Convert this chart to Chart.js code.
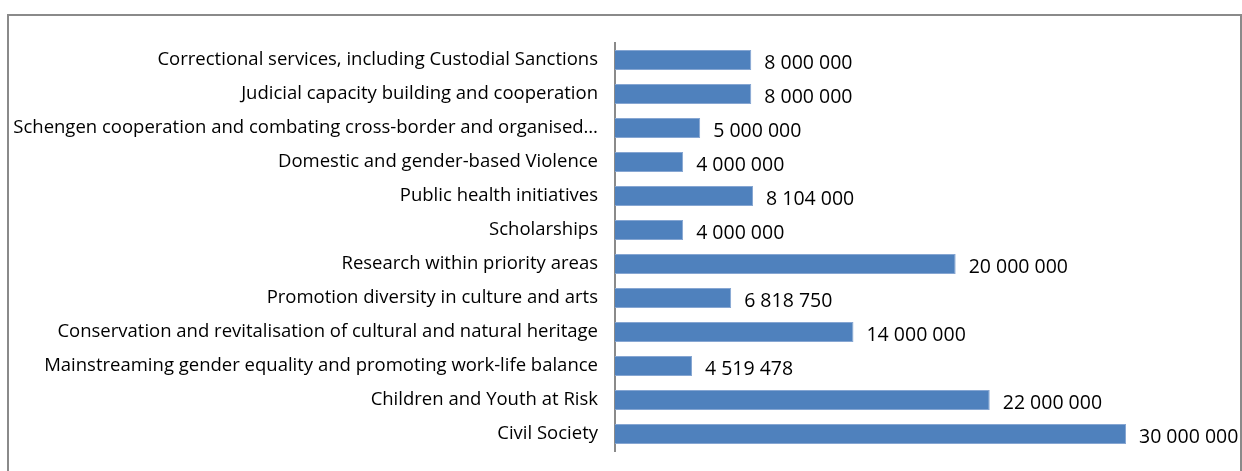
<!DOCTYPE html>
<html>
<head>
<meta charset="utf-8">
<script src="https://cdn.jsdelivr.net/npm/chart.js@4.4.0/dist/chart.umd.min.js"></script>
<style>
    body { margin: 0; background: #fff; }
    #wrap { position: relative; width: 1242px; height: 471px; overflow: hidden; }
    #frame {
        position: absolute; left: 7px; top: 14px; width: 1231px; height: 470px;
        border: 2px solid #8a8a8a; border-bottom: none; pointer-events: none;
    }
    canvas { position: absolute; left: 0; top: 0; }
</style>
</head>
<body>
<div id="wrap">
    <canvas id="fundingChart" width="1242" height="471"></canvas>
    <div id="frame"></div>
</div>
<script>
// categorias e valores (de cima para baixo)
var categories = [
    'Correctional services, including Custodial Sanctions',
    'Judicial capacity building and cooperation',
    'Schengen cooperation and combating cross-border and organised\u2026',
    'Domestic and gender-based Violence',
    'Public health initiatives',
    'Scholarships',
    'Research within priority areas',
    'Promotion diversity in culture and arts',
    'Conservation and revitalisation of cultural and natural heritage',
    'Mainstreaming gender equality and promoting work-life balance',
    'Children and Youth at Risk',
    'Civil Society'
];
var amounts = [8000000, 8000000, 5000000, 4000000, 8104000, 4000000,
               20000000, 6818750, 14000000, 4519478, 22000000, 30000000];
var axisMax = 30000000;

function spaced(n) {
    return String(n).replace(/\B(?=(\d{3})+(?!\d))/g, ' ');
}

var fontFamily = '"Open Sans", "Liberation Sans", sans-serif';

// rótulos de valor ao lado das barras
var valueLabels = {
    id: 'valueLabels',
    afterDatasetsDraw: function(chart) {
        var ctx = chart.ctx;
        var meta = chart.getDatasetMeta(0);
        ctx.save();
        ctx.font = '19.5px ' + fontFamily;
        ctx.fillStyle = '#000';
        ctx.textBaseline = 'middle';
        ctx.textAlign = 'left';
        meta.data.forEach(function(bar, i) {
            ctx.fillText(spaced(amounts[i]), bar.x + 13, bar.y + 3);
        });
        ctx.restore();
    }
};

var ctx = document.getElementById('fundingChart').getContext('2d');
var fundingChart = new Chart(ctx, {
    type: 'bar',
    data: {
        labels: categories,
        datasets: [{
            data: amounts,
            backgroundColor: '#4f81bd',
            borderColor: '#86a6d2',
            borderWidth: 1,
            categoryPercentage: 1,
            barPercentage: 0.59
        }]
    },
    options: {
        indexAxis: 'y',
        responsive: false,
        animation: false,
        layout: { padding: { top: 43, bottom: 20, left: 0, right: 116 } },
        plugins: {
            legend: { display: false },
            tooltip: { enabled: false }
        },
        scales: {
            x: { display: false, min: 0, max: axisMax },
            y: {
                afterFit: function(scale) {
                    scale.width = 615;
                    scale.paddingTop = 0;
                    scale.paddingBottom = 0;
                },
                grid: { display: false, drawTicks: false },
                border: { display: true, color: '#8a8a8a', width: 2 },
                ticks: {
                    color: '#000',
                    padding: 17,
                    font: { family: fontFamily, size: 18.5 }
                }
            }
        }
    },
    plugins: [valueLabels]
});
</script>
</body>
</html>
